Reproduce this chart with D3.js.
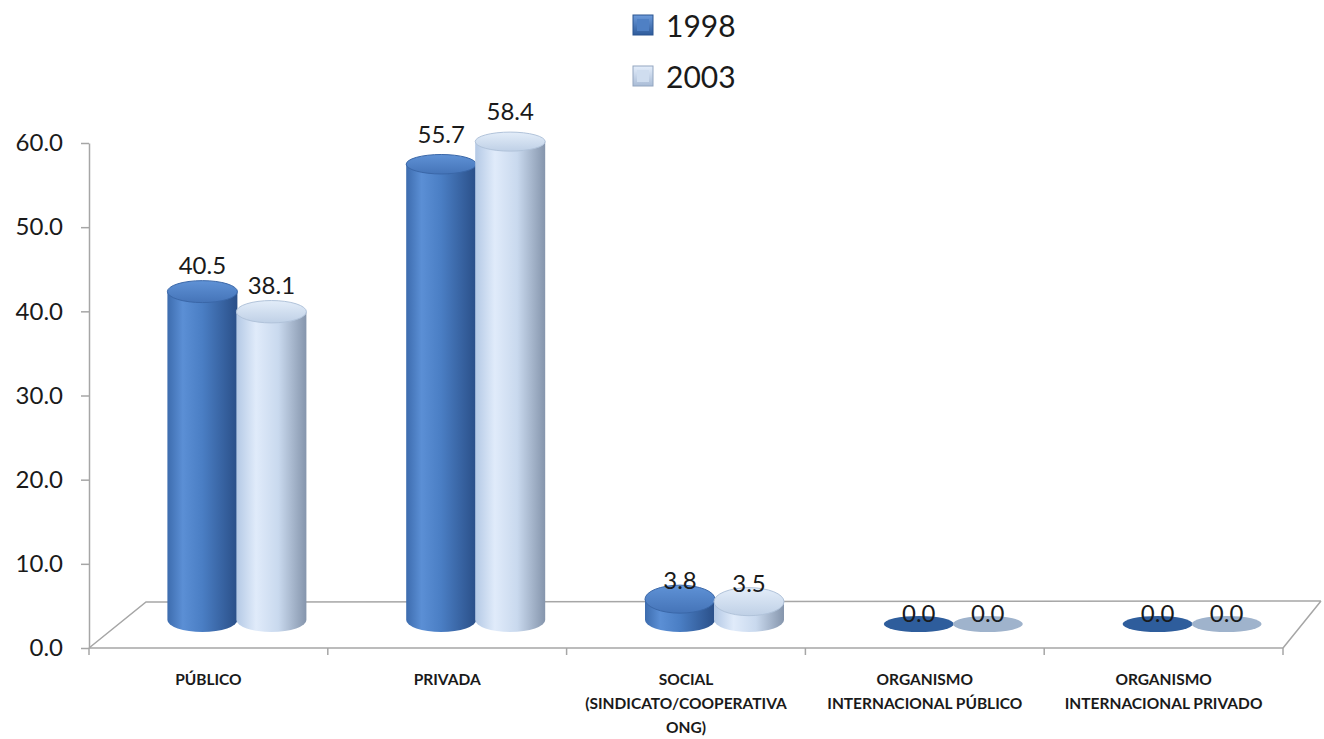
<!DOCTYPE html>
<html><head><meta charset="utf-8">
<script src="https://cdn.jsdelivr.net/npm/d3@7"></script>
<style>
html,body{margin:0;padding:0;background:#fff;}
svg{display:block;font-family:Lato,"Open Sans",sans-serif;}
</style></head>
<body>
<svg id="chart" width="1324" height="739"></svg>
<script>
const categories = [
  ["PÚBLICO"],
  ["PRIVADA"],
  ["SOCIAL", "(SINDICATO/COOPERATIVA", "ONG)"],
  ["ORGANISMO", "INTERNACIONAL PÚBLICO"],
  ["ORGANISMO", "INTERNACIONAL PRIVADO"]
];
const seriesNames = ["1998", "2003"];
const values1998 = [40.5, 55.7, 3.8, 0.0, 0.0];
const values2003 = [38.1, 58.4, 3.5, 0.0, 0.0];
const yTicks = [0, 10, 20, 30, 40, 50, 60];

const svg = d3.select("#chart");
const defs = svg.append("defs");

function linGrad(id, stops, vertical) {
  const g = defs.append("linearGradient").attr("id", id)
    .attr("x1", 0).attr("y1", 0).attr("x2", vertical ? 0 : 1).attr("y2", vertical ? 1 : 0);
  stops.forEach(s => g.append("stop").attr("offset", s[0]).attr("stop-color", s[1]));
}
linGrad("side0", [[0, "#3d6cae"], [0.22, "#5b8fd5"], [0.5, "#4a7ec4"], [1, "#2a4f88"]]);
linGrad("side1", [[0, "#b4c9e5"], [0.28, "#e0ebfa"], [0.6, "#c9d9ee"], [1, "#8595ac"]]);
linGrad("top0", [[0, "#5f92d6"], [1, "#4574b8"]], true);
linGrad("top1", [[0, "#e3edf9"], [1, "#bfd0e6"]], true);
linGrad("leg0", [[0, "#6d9bdb"], [1, "#2e5b9b"]], true);
linGrad("leg1", [[0, "#e4eefb"], [1, "#a9bcd6"]], true);
const flatColors = ["#2e5d9c", "#9fb3cc"];

// geometry
const frontY = 648, backY = 602;
const x0 = 89, x1 = 1283, depthX = 57;
const x = d3.scaleBand().domain(d3.range(categories.length)).range([x0, x1]);
const inner = d3.scaleBand().domain(seriesNames).range([-69, 69]);
const yAxisScale = d3.scaleLinear().domain([0, 60]).range([frontY, 143]);
const yTop = d3.scaleLinear().domain([0, 60]).range([631, 631 - 8.38 * 60]);
const yLabel = d3.scaleLinear().domain([0, 60]).range([622, 622 - 8.6 * 60]);

// floor
const floorColor = "#a6a6a6";
svg.append("path")
  .attr("d", `M${x0},${frontY} L${x0 + depthX},${backY} L1321,${backY - 1} M${x1},${frontY} L1321,${backY - 1}`)
  .attr("fill", "none").attr("stroke", floorColor).attr("stroke-width", 1.5);
svg.append("line").attr("x1", x0).attr("x2", x1).attr("y1", frontY).attr("y2", frontY)
  .attr("stroke", floorColor).attr("stroke-width", 1.5);
// category ticks
const bounds = d3.range(categories.length + 1).map(i => x0 + i * x.bandwidth());
svg.selectAll(".ctick").data(bounds).join("line")
  .attr("x1", d => d).attr("x2", d => d).attr("y1", frontY).attr("y2", frontY + 7)
  .attr("stroke", floorColor).attr("stroke-width", 1.5);

// y axis
const yAxis = d3.axisLeft(yAxisScale).tickValues(yTicks).tickFormat(d3.format(".1f"))
  .tickSize(8).tickSizeOuter(0).tickPadding(18);
const ga = svg.append("g").attr("transform", `translate(${x0},0)`).call(yAxis);
ga.select(".domain").attr("stroke", floorColor).attr("stroke-width", 1.5);
ga.selectAll(".tick line").attr("stroke", floorColor).attr("stroke-width", 1.5);
ga.selectAll(".tick text").attr("font-size", 24).attr("fill", "#1a1a1a")
  .attr("font-family", "Lato, sans-serif");

// bars
const seriesVals = [values1998, values2003];
const bottomY = 620, bottomRy = 12, rx = 35;
const gBars = svg.append("g");
categories.forEach((c, ci) => {
  seriesNames.forEach((s, si) => {
    const v = seriesVals[si][ci];
    const cx = x(ci) + x.bandwidth() / 2 + depthX / 2 + inner(s) + inner.bandwidth() / 2;
    const g = gBars.append("g");
    if (v === 0) {
      g.append("ellipse").attr("cx", cx).attr("cy", bottomY + 4).attr("rx", rx).attr("ry", 8)
        .attr("fill", flatColors[si]);
    } else {
      const ty = yTop(v);
      const topRy = 9.5 + 4.5 * (ty - 140) / 460;
      g.append("path")
        .attr("d", `M${cx - rx},${ty} L${cx - rx},${bottomY} A${rx},${bottomRy} 0 0 0 ${cx + rx},${bottomY} L${cx + rx},${ty} Z`)
        .attr("fill", `url(#side${si})`);
      g.append("ellipse").attr("cx", cx).attr("cy", ty).attr("rx", rx).attr("ry", topRy)
        .attr("fill", `url(#top${si})`)
        .attr("stroke", si === 0 ? "#3a67a8" : "#b1c3da").attr("stroke-width", 1);
    }
    g.append("text").attr("x", cx).attr("y", yLabel(v))
      .attr("text-anchor", "middle").attr("font-size", 24).attr("fill", "#1a1a1a")
      .text(d3.format(".1f")(v));
  });
});

// category labels
categories.forEach((lines, ci) => {
  const t = svg.append("text").attr("text-anchor", "middle")
    .attr("font-size", 15.5).attr("font-weight", "bold").attr("fill", "#1a1a1a");
  lines.forEach((ln, li) => {
    t.append("tspan").attr("x", x(ci) + x.bandwidth() / 2).attr("y", 685 + li * 24).text(ln);
  });
});

// legend
const leg = svg.append("g");
seriesNames.forEach((s, si) => {
  const ly = 15 + si * 51;
  leg.append("rect").attr("x", 633).attr("y", ly).attr("width", 20).attr("height", 20)
    .attr("fill", `url(#leg${si})`).attr("stroke", si === 0 ? "#2b5590" : "#93a6c0").attr("stroke-width", 1);
  leg.append("rect").attr("x", 637).attr("y", ly + 4).attr("width", 12).attr("height", 12)
    .attr("fill", si === 0 ? "#4f80c4" : "#cfddef");
  leg.append("text").attr("x", 666).attr("y", ly + 22).attr("font-size", 30).attr("fill", "#1a1a1a").text(s);
});
</script>
</body></html>
